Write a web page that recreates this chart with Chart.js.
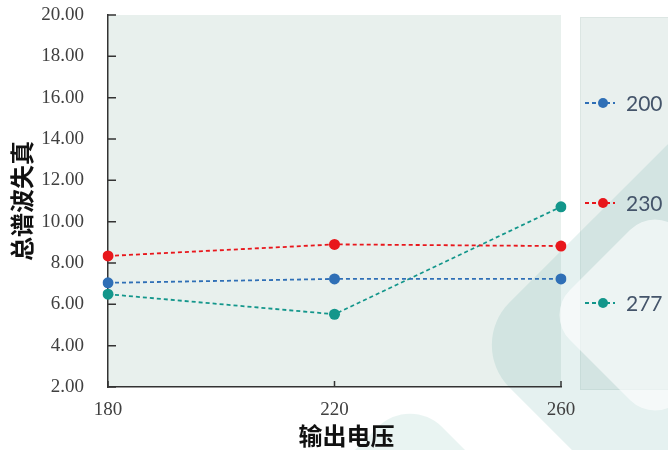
<!DOCTYPE html>
<html>
<head>
<meta charset="utf-8">
<script src="https://cdn.jsdelivr.net/npm/chart.js@4.4.0/dist/chart.umd.min.js"></script>
<style>
  html, body { margin: 0; padding: 0; background: #fff; }
  #wrap { width: 668px; height: 450px; }
</style>
</head>
<body>
<div id="wrap"><canvas id="thd"></canvas></div>
<script>
// output voltage (x categories)
const voltages = ["180", "220", "260"];
// series = input voltage
const seriesNames = ["200", "230", "277"];
const thd200 = [7.04, 7.23, 7.23];
const thd230 = [8.34, 8.90, 8.82];
const thd277 = [6.49, 5.52, 10.72];
const seriesColors = ["#2f6fb6", "#e8171c", "#13968b"];

const tickFont = { family: "Liberation Serif", size: 19 };
const titleFont = { family: "Noto Sans CJK SC", size: 24, weight: "bold" };

// rounded square rotated 45deg, used for the faint watermark
function diamond(ctx, cx, cy, half, r, color) {
  ctx.save();
  ctx.translate(cx, cy);
  ctx.rotate(Math.PI / 4);
  const s = half / Math.SQRT2;
  ctx.beginPath();
  ctx.moveTo(-s + r, -s);
  ctx.arcTo(s, -s, s, s, r);
  ctx.arcTo(s, s, -s, s, r);
  ctx.arcTo(-s, s, -s, -s, r);
  ctx.arcTo(-s, -s, s, -s, r);
  ctx.closePath();
  ctx.fillStyle = color;
  ctx.fill();
  ctx.restore();
}

const decor = {
  id: "decor",
  beforeDraw(chart) {
    const { ctx, chartArea: a, width } = chart;
    ctx.save();
    ctx.fillStyle = "#ffffff";
    ctx.fillRect(0, 0, width, chart.height);
    //plot background
    ctx.fillStyle = "#e8f0ed";
    ctx.fillRect(a.left, a.top, a.right - a.left, a.bottom - a.top);
    //legend panel
    ctx.fillStyle = "#e9f0ee";
    ctx.fillRect(a.right + 19, a.top + 2, width - a.right - 19, a.bottom - a.top + 1);
    ctx.strokeStyle = "#dce6e3";
    ctx.lineWidth = 1;
    ctx.strokeRect(a.right + 19.5, a.top + 2.5, width - a.right - 19, a.bottom - a.top);
    //watermark
    diamond(ctx, 707, 345, 240, 60, "rgba(110,180,170,0.18)");
    diamond(ctx, 410, 545, 150, 45, "rgba(110,180,170,0.15)");
    diamond(ctx, 655, 315, 110, 35, "rgba(255,255,255,0.6)");
    ctx.restore();
  },
  afterDraw(chart) {
    const { ctx, chartArea: a, scales } = chart;
    ctx.save();
    //inward tick marks
    ctx.strokeStyle = "#333";
    ctx.lineWidth = 1.5;
    ctx.beginPath();
    scales.y.ticks.forEach((t, i) => {
      const y = scales.y.getPixelForTick(i);
      ctx.moveTo(a.left, y);
      ctx.lineTo(a.left + 8, y);
    });
    scales.x.ticks.forEach((t, i) => {
      const x = scales.x.getPixelForTick(i);
      ctx.moveTo(x, a.bottom);
      ctx.lineTo(x, a.bottom - 6);
    });
    ctx.stroke();
    //legend: dashed line with dot + label
    const midY = (a.top + a.bottom) / 2 + 2;
    chart.data.datasets.forEach((ds, i) => {
      const y = midY + (i - 1) * 100;
      const x0 = a.right + 24;
      ctx.strokeStyle = ds.borderColor;
      ctx.lineWidth = 2;
      ctx.setLineDash([4, 3]);
      ctx.beginPath();
      ctx.moveTo(x0, y);
      ctx.lineTo(x0 + 30, y);
      ctx.stroke();
      ctx.setLineDash([]);
      ctx.fillStyle = ds.pointBackgroundColor;
      ctx.beginPath();
      ctx.arc(x0 + 18, y, 5, 0, Math.PI * 2);
      ctx.fill();
      ctx.fillStyle = "#44546a";
      ctx.font = "21px Lato";
      ctx.textBaseline = "middle";
      ctx.textAlign = "left";
      ctx.fillText(ds.label, x0 + 41, y + 1);
    });
    ctx.restore();
  },
};

const series = [thd200, thd230, thd277];
const datasets = series.map((vals, i) => ({
  label: seriesNames[i],
  data: vals,
  borderColor: seriesColors[i],
  backgroundColor: seriesColors[i],
  pointBackgroundColor: seriesColors[i],
  pointBorderWidth: 0,
  pointRadius: 5.5,
  borderWidth: 1.8,
  borderDash: [4, 3],
  tension: 0,
}));

new Chart(document.getElementById("thd"), {
  type: "line",
  data: { labels: voltages, datasets },
  options: {
    responsive: true,
    maintainAspectRatio: false,
    animation: false,
    layout: { padding: { left: 7, right: 107, top: 15, bottom: 0 } },
    plugins: {
      legend: { display: false },
      tooltip: { enabled: false },
    },
    scales: {
      x: {
        offset: false,
        grid: { display: false, drawTicks: false },
        border: { color: "#333", width: 1.5 },
        ticks: { font: tickFont, color: "#404040", padding: 12, maxRotation: 0 },
        title: { display: true, text: "\u3000输出电压", font: titleFont, color: "#111", padding: 0 },
        afterFit: (s) => {
          s.height = 63;
          s.paddingLeft = 0;
          s.paddingRight = 0;
        },
      },
      y: {
        min: 2,
        max: 20,
        grid: { display: false, drawTicks: false },
        border: { color: "#333", width: 1.5 },
        ticks: {
          stepSize: 2,
          font: tickFont,
          color: "#404040",
          padding: 24,
          callback: (v) => Number(v).toFixed(2),
        },
        title: { display: true, text: "总谱波失真", font: titleFont, color: "#111", padding: 0 },
        afterFit: (s) => {
          s.width = 101;
          s.paddingTop = 0;
          s.paddingBottom = 0;
        },
      },
    },
  },
  plugins: [decor],
});
</script>
</body>
</html>
